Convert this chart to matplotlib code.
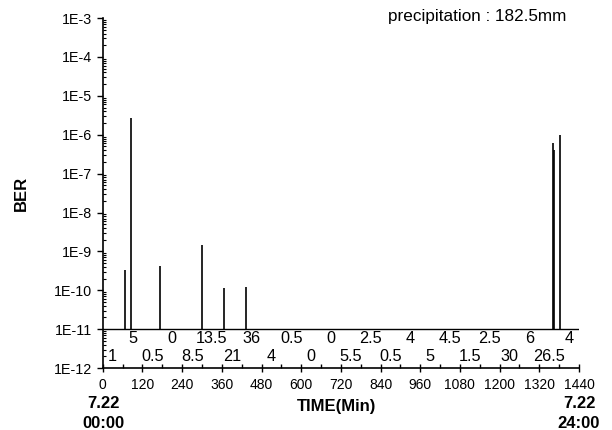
import numpy as np
import matplotlib.pyplot as plt
from matplotlib.ticker import FixedLocator, LogLocator, NullFormatter

plt.rcParams['font.family'] = ['Liberation Sans', 'DejaVu Sans']

# Пики BER (минуты, значение)
spike_min = [67, 84, 173, 301, 366, 434, 1362, 1364, 1382]
spike_ber = [3.3e-10, 2.7e-6, 4.2e-10, 1.5e-9, 1.15e-10, 1.2e-10, 6e-7, 4e-7, 1e-6]

# Осадки по часам (мм)
rain_hourly = [1, 5, 0.5, 0, 8.5, 13.5, 21, 36, 4, 0.5, 0, 0,
               5.5, 2.5, 0.5, 4, 5, 4.5, 1.5, 2.5, 30, 6, 26.5, 4]

x_ticks = list(range(0, 1441, 120))
y_ticks = [10.0 ** p for p in range(-12, -2)]
y_labels = [f'1E{p}' for p in range(-12, -2)]

baseline = 1e-11

fig = plt.figure(figsize=(6.12, 4.3), dpi=100)
ax = fig.add_axes([0.168, 0.144, 0.778, 0.814])

ax.set_yscale('log')
ax.set_xlim(0, 1440)
ax.set_ylim(1e-12, 1e-3)

# Базовая линия и пики
ax.plot([0, 1440], [baseline, baseline], color='black', linewidth=1.0)
ax.vlines(spike_min, baseline, spike_ber, color='black', linewidth=1.2)

# Подписи осадков в два ряда
for h, r in enumerate(rain_hourly):
    y = 10 ** -11.69 if h % 2 == 0 else 10 ** -11.23
    ax.text(h * 60 + 30, y, f'{r:g}', fontsize=11.7, ha='center', va='center')

fig.text(566 / 612, 1 - 16 / 430, 'precipitation : 182.5mm',
         fontsize=12.3, ha='right', va='center')

ax.spines['top'].set_visible(False)
ax.spines['right'].set_visible(False)
for s in ('left', 'bottom'):
    ax.spines[s].set_linewidth(1.2)

ax.set_xticks(x_ticks)
ax.xaxis.set_minor_locator(FixedLocator(list(range(60, 1440, 120))))
ax.set_yticks(y_ticks)
ax.set_yticklabels(y_labels)
ax.yaxis.set_minor_locator(LogLocator(base=10, subs=np.arange(2, 10), numticks=100))
ax.yaxis.set_minor_formatter(NullFormatter())

ax.tick_params(axis='x', which='major', direction='inout', length=6, width=1, labelsize=10, pad=4)
ax.tick_params(axis='x', which='minor', direction='in', length=3, width=1)
ax.tick_params(axis='y', which='major', direction='out', length=4, width=1, labelsize=10.3)
ax.tick_params(axis='y', which='minor', direction='in', length=2.5, width=0.8)

ax.set_ylabel('BER', fontsize=12, fontweight='bold', labelpad=18)

fig.text(103 / 612, 1 - 404 / 430, '7.22', fontsize=12, fontweight='bold', ha='center', va='center')
fig.text(103 / 612, 1 - 423 / 430, '00:00', fontsize=12, fontweight='bold', ha='center', va='center')
fig.text(579 / 612, 1 - 404 / 430, '7.22', fontsize=12, fontweight='bold', ha='center', va='center')
fig.text(579 / 612, 1 - 423 / 430, '24:00', fontsize=12, fontweight='bold', ha='center', va='center')
fig.text(337 / 612, 1 - 406 / 430, 'TIME(Min)', fontsize=12, fontweight='bold', ha='center', va='center')

fig.savefig('out.png', dpi=100)
